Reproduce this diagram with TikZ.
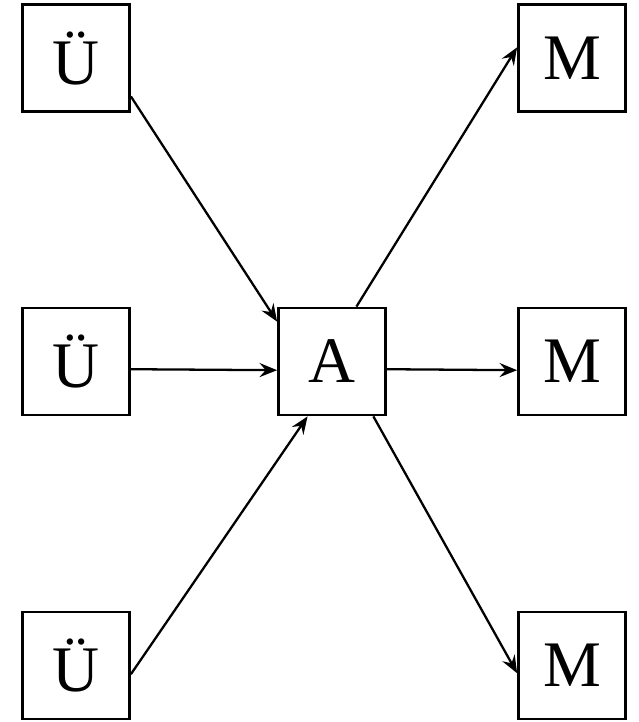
\documentclass[tikz,border=0pt]{standalone}
\usepackage{fontspec}
\setmainfont{Liberation Serif}
\usetikzlibrary{arrows.meta}
\begin{document}
\begin{tikzpicture}[x=0.02cm,y=-0.02cm,
  box/.style={draw,line width=1.6pt,minimum width=2.14cm,minimum height=2.14cm,inner sep=0pt,
    font=\fontsize{37}{40}\selectfont},
  link/.style={line width=1.3pt,-{Stealth[length=10pt,width=8pt,inset=3.5pt]}}]
\useasboundingbox (0,0) rectangle (638,722);
\node[box] (u1) at (76,58) {Ü};
\node[box] (u2) at (76,361.5) {Ü};
\node[box] (u3) at (76,665.5) {Ü};
\node[box] (a) at (332,361.5) {A};
\node[box] (m1) at (572,58) {M};
\node[box] (m2) at (572,361.5) {M};
\node[box] (m3) at (572,665.5) {M};
\draw[link] (u1.-35.3) -- (a.144);
\draw[link] (u2.-8.8) -- (a.-171.2);
\draw[link] (u3.-9.8) -- (a.-114.6);
\draw[link] (a.66.2) -- (m1.169.7);
\draw[link] (a.-8.8) -- (m2.-171.2);
\draw[link] (a.-53.7) -- (m3.-172);
\end{tikzpicture}
\end{document}
